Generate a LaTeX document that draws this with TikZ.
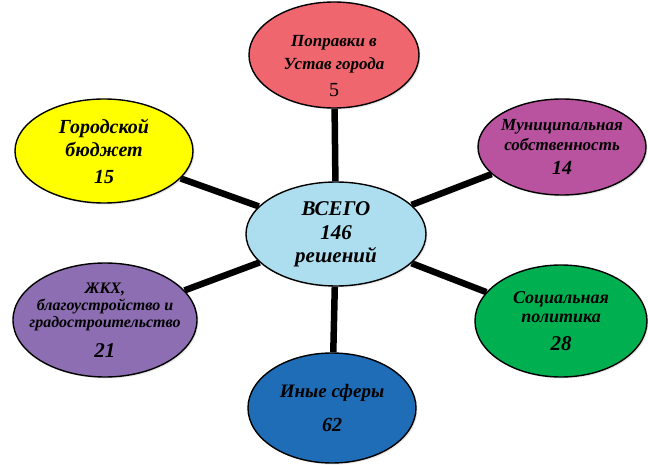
\documentclass[tikz,border=0pt]{standalone}
\usepackage{fontspec}
\setmainfont{Liberation Serif}
\usetikzlibrary{shapes.geometric,backgrounds,shadows}

\definecolor{amendred}{HTML}{F0666F}
\definecolor{budgetyellow}{HTML}{FFFF00}
\definecolor{propmagenta}{HTML}{B9529F}
\definecolor{housepurple}{HTML}{8D6EB3}
\definecolor{socgreen}{HTML}{00B050}
\definecolor{totalblue}{HTML}{ADDEEF}
\definecolor{otherblue}{HTML}{1F6DB7}

\tikzset{
  bubble/.style={ellipse, draw=black, line width=1.4pt, inner sep=-30pt,
    align=center, font=\bfseries\itshape,
    drop shadow={opacity=0.2, shadow xshift=1.5pt, shadow yshift=-1.5pt}},
  spoke/.style={line width=6.5pt, black},
}

\begin{document}
\begin{tikzpicture}[x=1pt, y=-1pt]
\useasboundingbox (0,0) rectangle (648,465);

% centre
\node[bubble, fill=totalblue, minimum width=180pt, minimum height=104pt,
  font=\bfseries\itshape\fontsize{21}{23}\selectfont] (total) at (336,234)
  {ВСЕГО\\[1pt]146\\решений};

% outer bubbles
\node[bubble, fill=amendred, minimum width=170pt, minimum height=106pt] (amend) at (334,55) {};
\node[font=\bfseries\itshape\fontsize{17}{23}\selectfont, align=center] (amendtxt)
  at ([yshift=-11pt]amend.center)
  {Поправки в\\Устав города\\[4pt]{\normalfont\fontsize{20}{20}\selectfont 5}};

\node[bubble, fill=budgetyellow, minimum width=178pt, minimum height=104pt,
  font=\bfseries\itshape\fontsize{20}{23}\selectfont] (budget) at (104,151)
  {Городской\\бюджет\\[4pt]15};

\node[bubble, fill=propmagenta, minimum width=168pt, minimum height=96pt,
  font=\bfseries\itshape\fontsize{17}{20}\selectfont] (property) at (562,147)
  {Муниципальная\\собственность\\[4pt]{\fontsize{20}{20}\selectfont 14}};

\node[bubble, fill=housepurple, minimum width=184pt, minimum height=114pt,
  font=\bfseries\itshape\fontsize{16}{17}\selectfont] (housing) at (105,320)
  {ЖКХ,\\благоустройство и\\градостроительство\\[12pt]{\fontsize{21}{21}\selectfont 21}};

\node[bubble, fill=socgreen, minimum width=172pt, minimum height=112pt,
  font=\bfseries\itshape\fontsize{18}{19}\selectfont] (social) at (561,321)
  {Социальная\\политика\\[9pt]{\fontsize{21}{21}\selectfont 28}};

\node[bubble, fill=otherblue, minimum width=168pt, minimum height=110pt,
  font=\bfseries\itshape\fontsize{19}{20}\selectfont] (other) at (332,408)
  {Иные сферы\\[14pt]{\fontsize{20}{20}\selectfont 62}};

% spokes
\begin{scope}[on background layer]
  \draw[spoke] (total) -- (amend);
  \draw[spoke] (total) -- (budget);
  \draw[spoke] (total) -- (property);
  \draw[spoke] (total) -- (housing);
  \draw[spoke] (total) -- (social);
  \draw[spoke] (total) -- (other);
\end{scope}
\end{tikzpicture}
\end{document}
